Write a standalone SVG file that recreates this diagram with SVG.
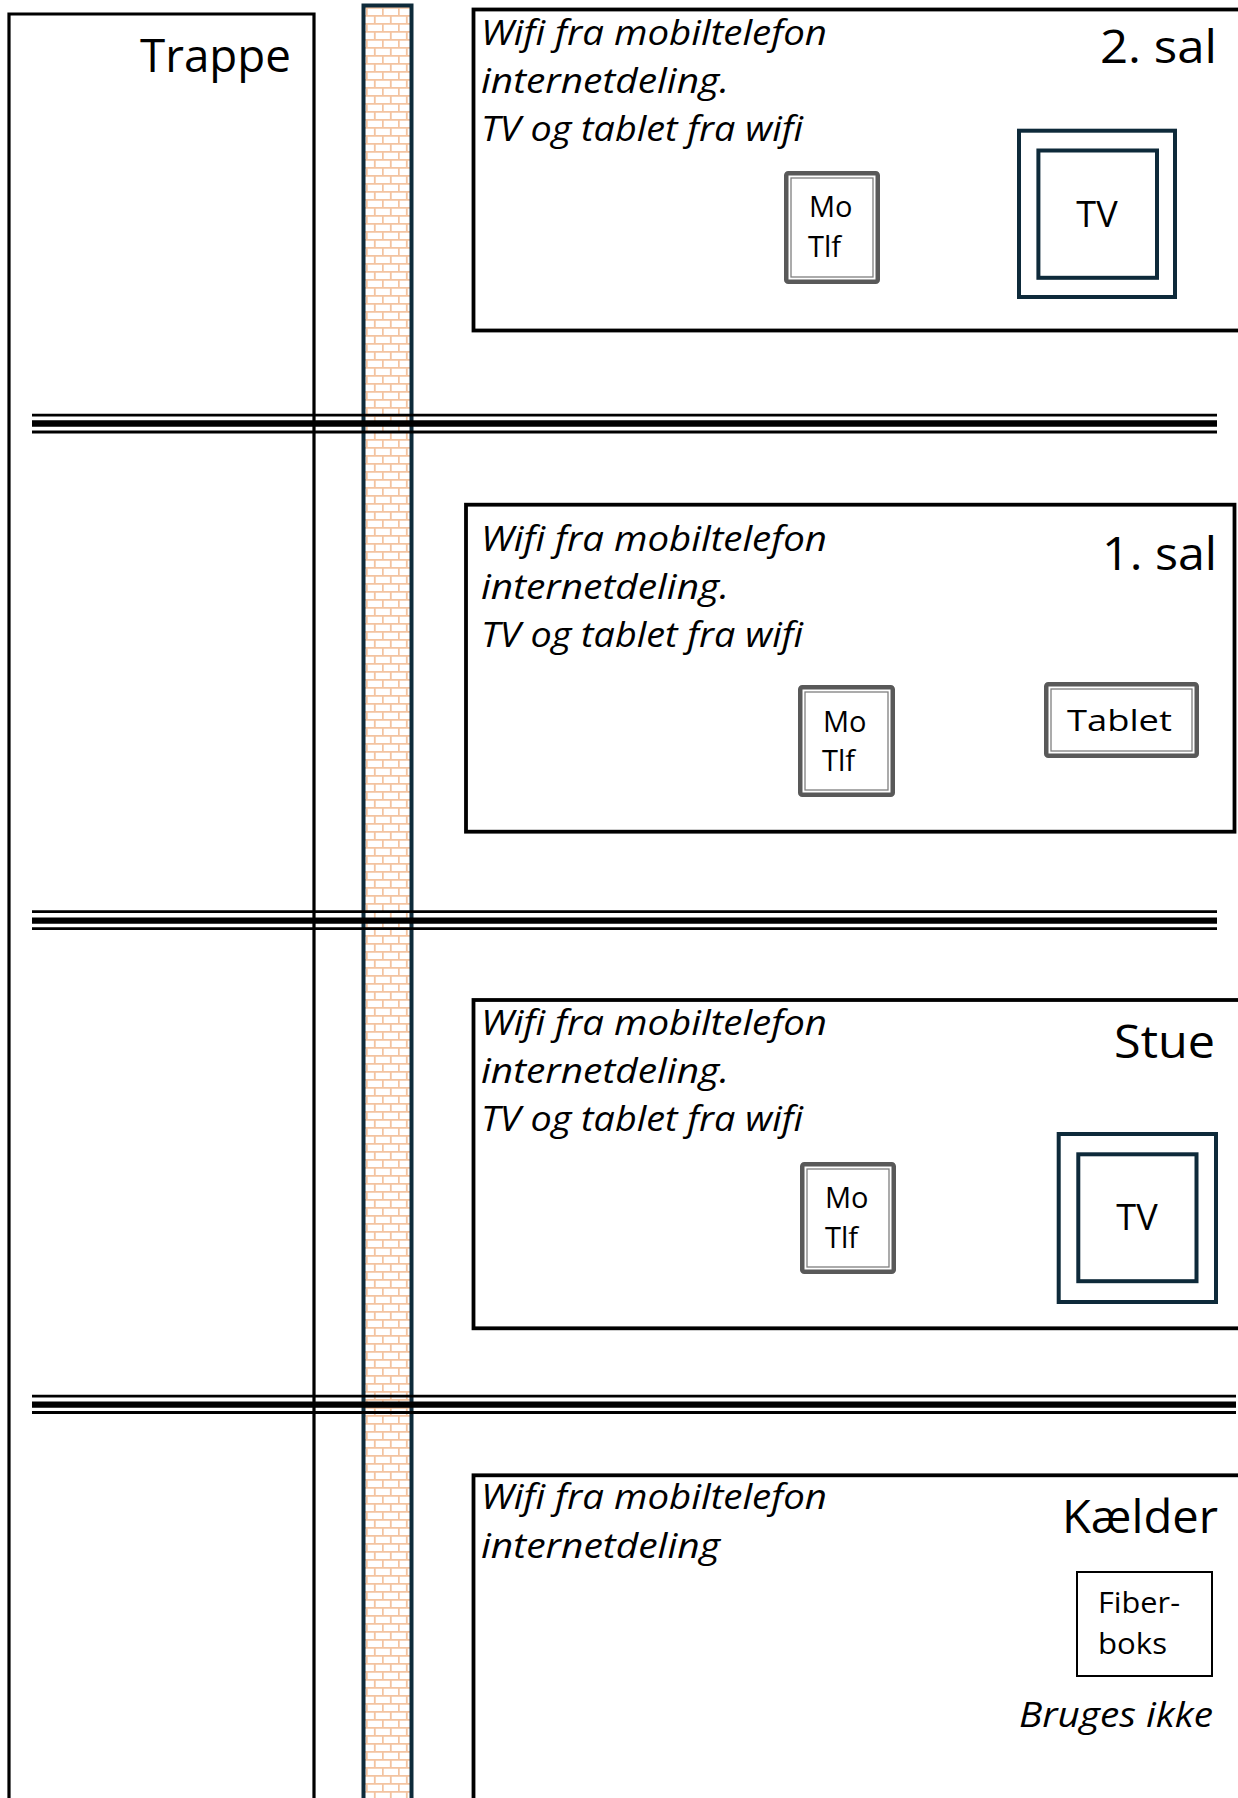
<svg xmlns="http://www.w3.org/2000/svg" width="1238" height="1798" viewBox="0 0 1238 1798">
<defs>
<pattern id="brick" patternUnits="userSpaceOnUse" x="366" y="7" width="16" height="16">
<rect width="16" height="16" fill="#ffffff"/>
<path d="M0 0.8H16M0 8.8H16M0.8 0V8M8.8 8V16" stroke="#f3c3a0" stroke-width="1.8" fill="none"/>
</pattern>
<style>
.wall{fill:none;stroke:#000;stroke-width:3.2}
.room{fill:none;stroke:#000;stroke-width:3.8}
.desc{font-family:"Open Sans","Noto Sans","DejaVu Sans",sans-serif;font-style:italic;font-size:35px;fill:#000}
.label{font-family:"Open Sans","Noto Sans","DejaVu Sans",sans-serif;font-size:46px;fill:#000;text-anchor:end}
.dev{font-family:"Open Sans","Noto Sans","DejaVu Sans",sans-serif;font-size:29px;fill:#000}
.tvt{font-family:"Open Sans","Noto Sans","DejaVu Sans",sans-serif;font-size:36px;fill:#000;text-anchor:middle}
.fo{fill:#fff;stroke:#595959;stroke-width:4.5}
.fi{fill:none;stroke:#7f7f7f;stroke-width:1.3}
.tv{fill:#fff;stroke:#0e2a3a;stroke-width:4}
.thin{stroke:#000;stroke-width:2.8;fill:none}
.thick{stroke:#000;stroke-width:6.3;fill:none}
</style>
</defs>
<rect width="1238" height="1798" fill="#ffffff"/>

<g id="trappe">
<path class="wall" d="M9 1800V14H314V1800"/>
<text class="label" x="291" y="72" textLength="151" lengthAdjust="spacingAndGlyphs">Trappe</text>
</g>

<g id="room-2-sal">
<rect class="room" x="473.5" y="9.5" width="800" height="321"/>
<text class="desc" x="481" y="45" textLength="346" lengthAdjust="spacingAndGlyphs">Wifi fra mobiltelefon</text>
<text class="desc" x="481" y="93" textLength="248" lengthAdjust="spacingAndGlyphs">internetdeling.</text>
<text class="desc" x="481" y="141" textLength="322" lengthAdjust="spacingAndGlyphs">TV og tablet fra wifi</text>
<text class="label" x="1217" y="63" textLength="117" lengthAdjust="spacingAndGlyphs">2. sal</text>
<g id="mo-tlf-2">
<rect class="fo" x="786.25" y="173.25" width="91.5" height="108.5" rx="2"/>
<rect class="fi" x="791" y="178" width="82" height="99"/>
<text class="dev" x="809" y="217">Mo</text>
<text class="dev" x="808" y="257">Tlf</text>
</g>
<g id="tv-2">
<rect class="tv" x="1019" y="130.7" width="156" height="166.3"/>
<rect class="tv" x="1038.4" y="150.5" width="118.6" height="127.3"/>
<text class="tvt" x="1097" y="227">TV</text>
</g>
</g>

<g id="room-1-sal">
<rect class="room" x="466" y="504.7" width="768.5" height="327"/>
<text class="desc" x="481" y="551" textLength="346" lengthAdjust="spacingAndGlyphs">Wifi fra mobiltelefon</text>
<text class="desc" x="481" y="599" textLength="248" lengthAdjust="spacingAndGlyphs">internetdeling.</text>
<text class="desc" x="481" y="647" textLength="322" lengthAdjust="spacingAndGlyphs">TV og tablet fra wifi</text>
<text class="label" x="1217" y="570" textLength="115" lengthAdjust="spacingAndGlyphs">1. sal</text>
<g id="mo-tlf-1">
<rect class="fo" x="800.25" y="687.25" width="92.5" height="107.5" rx="2"/>
<rect class="fi" x="805" y="692" width="83" height="98"/>
<text class="dev" x="823" y="732">Mo</text>
<text class="dev" x="822" y="771">Tlf</text>
</g>
<g id="tablet-1">
<rect class="fo" x="1046.25" y="684.25" width="150.5" height="71.5" rx="2"/>
<rect class="fi" x="1051" y="689" width="141" height="62"/>
<text class="dev" x="1067" y="731" font-size="34" textLength="105" lengthAdjust="spacingAndGlyphs">Tablet</text>
</g>
</g>

<g id="room-stue">
<rect class="room" x="473.5" y="1000" width="800" height="328.3"/>
<text class="desc" x="481" y="1035" textLength="346" lengthAdjust="spacingAndGlyphs">Wifi fra mobiltelefon</text>
<text class="desc" x="481" y="1083" textLength="248" lengthAdjust="spacingAndGlyphs">internetdeling.</text>
<text class="desc" x="481" y="1131" textLength="322" lengthAdjust="spacingAndGlyphs">TV og tablet fra wifi</text>
<text class="label" x="1215" y="1058" textLength="101" lengthAdjust="spacingAndGlyphs">Stue</text>
<g id="mo-tlf-stue">
<rect class="fo" x="802.25" y="1164.25" width="91.5" height="107.5" rx="2"/>
<rect class="fi" x="807" y="1169" width="82" height="98"/>
<text class="dev" x="825" y="1208">Mo</text>
<text class="dev" x="825" y="1248">Tlf</text>
</g>
<g id="tv-stue">
<rect class="tv" x="1058.7" y="1134" width="157.3" height="168"/>
<rect class="tv" x="1078.3" y="1154.3" width="118.2" height="126.9"/>
<text class="tvt" x="1137" y="1230">TV</text>
</g>
</g>

<g id="room-kaelder">
<rect class="room" x="473.5" y="1475.3" width="800" height="400"/>
<text class="desc" x="481" y="1509" textLength="346" lengthAdjust="spacingAndGlyphs">Wifi fra mobiltelefon</text>
<text class="desc" x="481" y="1558" textLength="239" lengthAdjust="spacingAndGlyphs">internetdeling</text>
<text class="label" x="1218" y="1533" textLength="156" lengthAdjust="spacingAndGlyphs">Kælder</text>
<g id="fiberboks">
<rect x="1077" y="1572" width="135" height="104" fill="#fff" stroke="#000" stroke-width="2"/>
<text class="dev" x="1098" y="1613" font-size="30" textLength="82" lengthAdjust="spacingAndGlyphs">Fiber-</text>
<text class="dev" x="1098" y="1654" font-size="30" textLength="69" lengthAdjust="spacingAndGlyphs">boks</text>
</g>
<text class="desc" x="1213" y="1727" text-anchor="end" textLength="194" lengthAdjust="spacingAndGlyphs">Bruges ikke</text>
</g>

<g id="brick-wall">
<rect x="363.5" y="5.5" width="48" height="1800" fill="url(#brick)" stroke="#0e2a3a" stroke-width="4"/>
</g>

<g id="floor-slabs">
<path class="thin" d="M32 415.2H1217M32 432H1217M32 911.7H1217M32 928.7H1217M32 1396.2H1236M32 1412.5H1236"/>
<path class="thick" d="M32 423.5H1217M32 920.7H1217M32 1404.7H1236"/>
</g>
</svg>
